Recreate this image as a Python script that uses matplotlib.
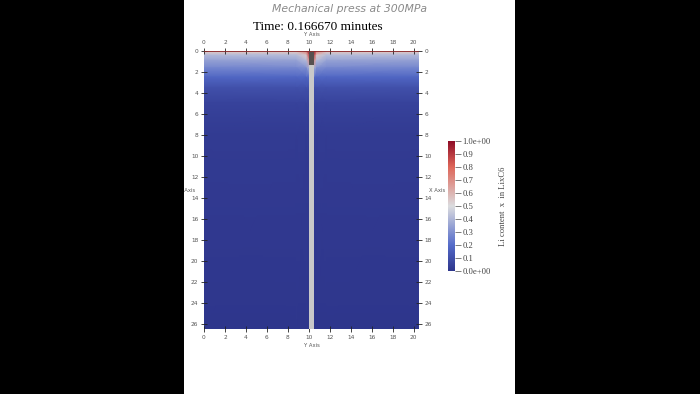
import numpy as np
import matplotlib

matplotlib.use("Agg")
import matplotlib.pyplot as plt
from matplotlib.colors import LinearSegmentedColormap
from matplotlib.patches import Rectangle

# depth below the pressed surface (Y in the picture goes down)
depth = [0.0, 0.12, 0.4, 0.9, 1.6, 2.5, 3.5, 5.0, 8.0, 26.5]

# electrode columns either side of the separator strip
x_left = [0.0, 8.8, 9.75, 10.0]
x_right = [10.5, 10.75, 11.7, 20.5]

# Li content x in LixC6, rows = depth, cols = x
li_left = [
    [1.00, 1.00, 1.00, 1.00],
    [0.55, 0.56, 0.70, 0.95],
    [0.41, 0.42, 0.55, 0.88],
    [0.34, 0.35, 0.42, 0.70],
    [0.27, 0.28, 0.30, 0.40],
    [0.18, 0.18, 0.18, 0.20],
    [0.10, 0.10, 0.10, 0.10],
    [0.05, 0.05, 0.05, 0.05],
    [0.02, 0.02, 0.02, 0.02],
    [0.00, 0.00, 0.00, 0.00],
]
li_right = [
    [1.00, 1.00, 1.00, 1.00],
    [0.95, 0.70, 0.56, 0.55],
    [0.88, 0.55, 0.42, 0.41],
    [0.70, 0.42, 0.35, 0.34],
    [0.40, 0.30, 0.28, 0.27],
    [0.20, 0.18, 0.18, 0.18],
    [0.10, 0.10, 0.10, 0.10],
    [0.05, 0.05, 0.05, 0.05],
    [0.02, 0.02, 0.02, 0.02],
    [0.00, 0.00, 0.00, 0.00],
]

sep_x0, sep_x1 = 10.0, 10.5
sep_dark_depth = 1.3
x_max, y_max = 20.5, 26.5

x_ticks = list(range(0, 21, 2))
y_ticks = list(range(0, 27, 2))
cb_ticks = [0.0, 0.1, 0.2, 0.3, 0.4, 0.5, 0.6, 0.7, 0.8, 0.9, 1.0]
cb_labels = ["0.0e+00", "0.1", "0.2", "0.3", "0.4", "0.5", "0.6", "0.7", "0.8", "0.9", "1.0e+00"]

cmap = LinearSegmentedColormap.from_list(
    "cool_warm",
    [
        (0.00, (0.18, 0.21, 0.55)),
        (0.20, (0.33, 0.42, 0.79)),
        (0.50, (0.86, 0.86, 0.87)),
        (0.80, (0.87, 0.40, 0.35)),
        (1.00, (0.56, 0.05, 0.15)),
    ],
)

W, H = 700, 394
fig = plt.figure(figsize=(7, 3.94), dpi=100, facecolor="black")

# white page in the middle of the video frame
fig.patches.append(Rectangle((184 / W, 0), 331 / W, 1, transform=fig.transFigure,
                             facecolor="white", edgecolor="none", zorder=-1))

ax = fig.add_axes([204 / W, 1 - 329 / H, 215 / W, 278 / H])
for xs, vals in [(x_left, li_left), (x_right, li_right)]:
    X, Y = np.meshgrid(xs, depth)
    mesh = ax.pcolormesh(X, Y, np.array(vals), shading="gouraud", cmap=cmap, vmin=0, vmax=1)

ax.bar((sep_x0 + sep_x1) / 2, y_max, width=sep_x1 - sep_x0, bottom=0,
       color="#c9c9c9", edgecolor="none", zorder=2)
ax.bar((sep_x0 + sep_x1) / 2, sep_dark_depth, width=sep_x1 - sep_x0 - 0.08, bottom=0,
       color="#56504f", edgecolor="none", zorder=3)
ax.axhline(0, color="#8a2a2a", linewidth=1.2, zorder=4)

ax.set_xlim(0, x_max)
ax.set_ylim(y_max, 0)
ax.set_xticks(x_ticks)
ax.set_yticks(y_ticks)
ax.tick_params(which="both", direction="inout", length=5, width=0.6, color="#222222",
               labelsize=4.2, labelcolor="#555555", pad=1.5,
               top=True, right=True, labeltop=True, labelright=True)
for s in ax.spines.values():
    s.set_visible(False)

ax.text(0.5, 1.05, "Y Axis", transform=ax.transAxes, ha="center", va="bottom",
        fontsize=3.8, color="#555555")
ax.text(0.5, -0.05, "Y Axis", transform=ax.transAxes, ha="center", va="top",
        fontsize=3.8, color="#555555")
ax.text(-0.04, 0.5, "X Axis", transform=ax.transAxes, ha="right", va="center",
        fontsize=3.8, color="#555555")
ax.text(1.045, 0.5, "X Axis", transform=ax.transAxes, ha="left", va="center",
        fontsize=3.8, color="#555555")

cax = fig.add_axes([448 / W, 1 - 271 / H, 7 / W, 130 / H])
cb = fig.colorbar(mesh, cax=cax, ticks=cb_ticks)
cb.outline.set_visible(False)
cb.ax.set_yticklabels(cb_labels, fontfamily="Liberation Serif", fontsize=6.2, color="#444444")
cb.ax.tick_params(length=4, width=0.6, color="#666666", pad=1.5)
cb.set_label("Li content  x  in LixC6", fontfamily="Liberation Serif", fontsize=6.2,
             color="#444444", labelpad=6)

fig.text(350 / W, 1 - 9 / H, "Mechanical press at 300MPa", ha="center", va="center",
         fontsize=7.8, color="#8a8a8a", style="italic")
fig.text(318 / W, 1 - 27 / H, "Time: 0.166670 minutes", ha="center", va="center",
         fontsize=9.5, fontfamily="Liberation Serif", color="black")

# black bars either side hide anything that spills off the page
fig.patches.append(Rectangle((0, 0), 184 / W, 1, transform=fig.transFigure,
                             facecolor="black", edgecolor="none", zorder=20))
fig.patches.append(Rectangle((515 / W, 0), 185 / W, 1, transform=fig.transFigure,
                             facecolor="black", edgecolor="none", zorder=20))

fig.savefig("out.png", dpi=100, facecolor="black")
